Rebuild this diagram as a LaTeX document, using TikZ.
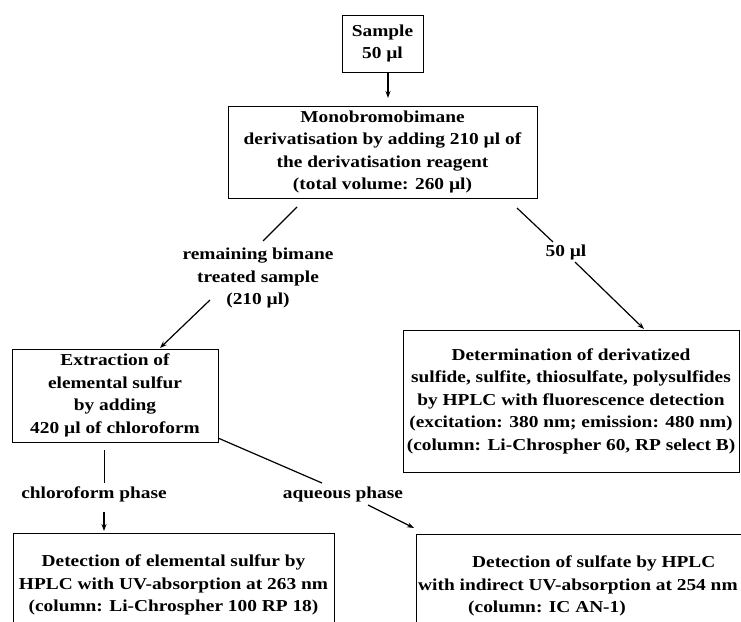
\documentclass[tikz,border=0pt]{standalone}
\usepackage{fontspec}
\setmainfont{Liberation Serif}[FakeStretch=1.16]
\usetikzlibrary{arrows.meta}
\begin{document}
\begin{tikzpicture}[x=1pt,y=-1pt,
  txt/.style={font=\bfseries\fontsize{16.7}{22.5}\selectfont},
  box/.style={txt, draw, line width=1pt, inner sep=0pt, align=center},
  frame/.style={draw, line width=1pt, inner sep=0pt},
  lbl/.style={txt, inner sep=0pt, align=center},
  conn/.style={line width=1.2pt},
  thin/.style={line width=0.9pt},
  arr/.style={conn, -{Stealth[length=7pt,width=5pt]}}]
\useasboundingbox (0,0) rectangle (741,621);
\clip (0,0) rectangle (741,621);

% boxes
\node[box, minimum width=81pt, minimum height=57pt] (sample) at (382.5,43.5) {Sample\\50 µl};
\node[box, minimum width=309pt, minimum height=92pt] (mono) at (382.5,152)
  {Monobromobimane\\derivatisation by adding 210 µl of\\the derivatisation reagent\\(total volume: 260 µl)};
\node[box, minimum width=206pt, minimum height=93pt] (extr) at (115,395.5)
  {Extraction of\\elemental sulfur\\by adding\\420 µl of chloroform};
\node[box, minimum width=336pt, minimum height=142pt] (det) at (571,401)
  {Determination of derivatized\\sulfide, sulfite, thiosulfate, polysulfides\\by HPLC with fluorescence detection\\(excitation: 380 nm; emission: 480 nm)\\(column: Li-Chrospher 60, RP select B)};
\node[frame, minimum width=321pt, minimum height=110pt, anchor=north west] (elembox) at (13,533) {};
\node[lbl] (elemtext) at (173.5,585)
  {Detection of elemental sulfur by\\HPLC with UV-absorption at 263 nm\\(column: Li-Chrospher 100 RP 18)};
\node[frame, minimum width=345pt, minimum height=110pt, anchor=north west] (sulfbox) at (416,534) {};
\node[lbl, align=left, anchor=west] (sulftext) at (418,586)
  {\hspace*{54pt}Detection of sulfate by HPLC\\with indirect UV-absorption at 254 nm\\\hspace*{50pt}(column: IC AN-1)};

% labels
\node[lbl] (remain) at (258,278) {remaining bimane\\treated sample\\(210 µl)};
\node[lbl] (fifty) at (566,252) {50 µl};
\node[lbl] (chlph) at (94,494) {chloroform phase};
\node[lbl] (aqph) at (343,494) {aqueous phase};

% connector end points
\coordinate (a1) at (388,73);
\coordinate (a2) at (388,98);
\coordinate (b1) at (297,207);
\coordinate (b2) at (263,241);
\coordinate (c1) at (210,300);
\coordinate (c2) at (160,348);
\coordinate (d1) at (517,208);
\coordinate (d2) at (553,242);
\coordinate (e1) at (575,262);
\coordinate (e2) at (644,329);
\coordinate (f1) at (104,450);
\coordinate (f2) at (104,483);
\coordinate (g1) at (104,512);
\coordinate (g2) at (104,531);
\coordinate (h1) at (218,438);
\coordinate (h2) at (322,483);
\coordinate (i1) at (368,505);
\coordinate (i2) at (414,528);

\draw[arr] (a1) -- (a2);
\draw[conn] (b1) -- (b2);
\draw[arr] (c1) -- (c2);
\draw[conn] (d1) -- (d2);
\draw[arr] (e1) -- (e2);
\draw[thin] (f1) -- (f2);
\draw[arr] (g1) -- (g2);
\draw[conn] (h1) -- (h2);
\draw[arr] (i1) -- (i2);
\end{tikzpicture}
\end{document}
